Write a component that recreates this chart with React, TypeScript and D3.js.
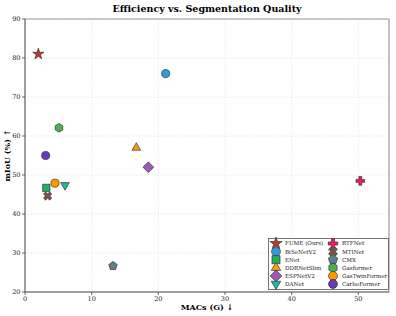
import React from "react";
import * as d3 from "d3";

// model names, MACs (G), mIoU (%)
const models = ["FUME (Ours)", "BiSeNetV2", "ENet", "DDRNetSlim", "ESPNetV2", "DANet", "RTFNet", "MTINet", "CMX", "Gasformer", "GasTwinFormer", "CarboFormer"];
const macs = [2.0, 21.1, 3.2, 16.7, 18.5, 6.0, 50.3, 3.4, 13.2, 5.1, 4.5, 3.1];
const miou = [81.0, 76.0, 46.7, 57.0, 52.0, 47.4, 48.5, 44.6, 26.7, 62.1, 47.9, 55.0];
const colors = ["#c0392b", "#3498db", "#27ae60", "#f39c12", "#9b59b6", "#1abc9c", "#e91e63", "#795548", "#607d8b", "#4caf50", "#ff9800", "#673ab7"];
const shapes = ["star", "circle", "square", "triangleUp", "diamond", "triangleDown", "plus", "x", "pentagon", "hexagon", "circle", "circle"];

const xTicks = [0, 10, 20, 30, 40, 50];
const yTicks = [20, 30, 40, 50, 60, 70, 80, 90];

const W = 396;
const H = 316;
const margin = { top: 19, right: 7, bottom: 24, left: 25 };
const SERIF = "'DejaVu Serif', serif";

function polygon(n: number, r: number, rot: number) {
  const p = d3.path();
  for (let i = 0; i < n; i++) {
    const a = rot + (i * 2 * Math.PI) / n;
    const px = r * Math.sin(a);
    const py = -r * Math.cos(a);
    if (i === 0) p.moveTo(px, py);
    else p.lineTo(px, py);
  }
  p.closePath();
  return p.toString();
}

function markerPath(shape: string, s: number) {
  switch (shape) {
    case "star":
      return d3.symbol(d3.symbolStar, s * 0.75)();
    case "circle":
      return d3.symbol(d3.symbolCircle, s)();
    case "square":
      return d3.symbol(d3.symbolSquare, s * 1.05)();
    case "triangleUp":
      return polygon(3, Math.sqrt(s) * 0.7, 0);
    case "triangleDown":
      return polygon(3, Math.sqrt(s) * 0.7, Math.PI);
    case "diamond":
      return polygon(4, Math.sqrt(s) * 0.75, 0);
    case "plus":
    case "x":
      return d3.symbol(d3.symbolCross, s * 0.8)();
    case "pentagon":
      return polygon(5, Math.sqrt(s) * 0.62, 0);
    case "hexagon":
      return polygon(6, Math.sqrt(s) * 0.6, 0);
  }
  return d3.symbol(d3.symbolCircle, s)();
}

function Marker({ shape, color, size, x, y }: { shape: string; color: string; size: number; x: number; y: number }) {
  const rot = shape === "x" ? 45 : 0;
  return (
    <path
      d={markerPath(shape, size) as string}
      transform={`translate(${x},${y}) rotate(${rot})`}
      fill={color}
      stroke="#222"
      strokeWidth={0.6}
    />
  );
}

export default function App() {
  const iw = W - margin.left - margin.right;
  const ih = H - margin.top - margin.bottom;
  const x = d3.scaleLinear().domain([0, 54.6]).range([0, iw]);
  const y = d3.scaleLinear().domain([20, 90]).range([ih, 0]);

  const legX = 268.5 - margin.left;
  const legY = 238.5 - margin.top;
  const legW = 120;
  const legH = 51;
  const rowH = 8.1;

  return (
    <svg width={W} height={H} style={{ position: "absolute", left: 0, top: 0, background: "#fff" }} fontFamily={SERIF}>
      <text x={207} y={12} textAnchor="middle" fontWeight="bold" fontSize={9.5}>
        Efficiency vs. Segmentation Quality
      </text>
      <g transform={`translate(${margin.left},${margin.top})`}>
        {/* grid */}
        {xTicks.map((t) => (
          <line key={"gx" + t} x1={x(t)} x2={x(t)} y1={0} y2={ih} stroke="#ddd" strokeWidth={0.6} strokeDasharray="1.5,1.5" />
        ))}
        {yTicks.map((t) => (
          <line key={"gy" + t} x1={0} x2={iw} y1={y(t)} y2={y(t)} stroke="#ddd" strokeWidth={0.6} strokeDasharray="1.5,1.5" />
        ))}
        {/* frame */}
        <line x1={0} x2={iw} y1={0} y2={0} stroke="#999" strokeWidth={1.2} />
        <line x1={iw} x2={iw} y1={0} y2={ih} stroke="#999" strokeWidth={1.2} />
        <line x1={0} x2={0} y1={0} y2={ih} stroke="#444" strokeWidth={1} />
        <line x1={0} x2={iw} y1={ih} y2={ih} stroke="#444" strokeWidth={1} />
        {/* ticks */}
        {xTicks.map((t) => (
          <g key={"tx" + t} transform={`translate(${x(t)},${ih})`}>
            <line y1={0} y2={3} stroke="#444" strokeWidth={0.8} />
            <text y={8.5} textAnchor="middle" fontSize={6.5} fill="#222">{t}</text>
          </g>
        ))}
        {yTicks.map((t) => (
          <g key={"ty" + t} transform={`translate(0,${y(t)})`}>
            <line x1={-3} x2={0} stroke="#444" strokeWidth={0.8} />
            <text x={-4.5} dy="0.35em" textAnchor="end" fontSize={6.5} fill="#222">{t}</text>
          </g>
        ))}
        {/* points */}
        {models.map((m, i) => (
          <Marker key={m} shape={shapes[i]} color={colors[i]} size={52} x={x(macs[i])} y={y(miou[i])} />
        ))}
        {/* legend */}
        <rect x={legX} y={legY} width={legW} height={legH} fill="#fff" fillOpacity={0.95} stroke="#555" strokeWidth={0.8} />
        {models.map((m, i) => {
          const col = Math.floor(i / 6);
          const row = i % 6;
          const mx = legX + 7.5 + col * 57;
          const my = legY + 5 + row * rowH;
          return (
            <g key={"leg" + m}>
              <Marker shape={shapes[i]} color={colors[i]} size={62} x={mx} y={my} />
              <text x={mx + 9} y={my} dy="0.35em" fontSize={5.6} fill="#222">{m}</text>
            </g>
          );
        })}
      </g>
      <text x={207} y={310} textAnchor="middle" fontWeight="bold" fontSize={8}>
        MACs (G) ↓
      </text>
      <text transform={`translate(10,${margin.top + ih / 2}) rotate(-90)`} textAnchor="middle" fontWeight="bold" fontSize={8}>
        mIoU (%) ↑
      </text>
    </svg>
  );
}
